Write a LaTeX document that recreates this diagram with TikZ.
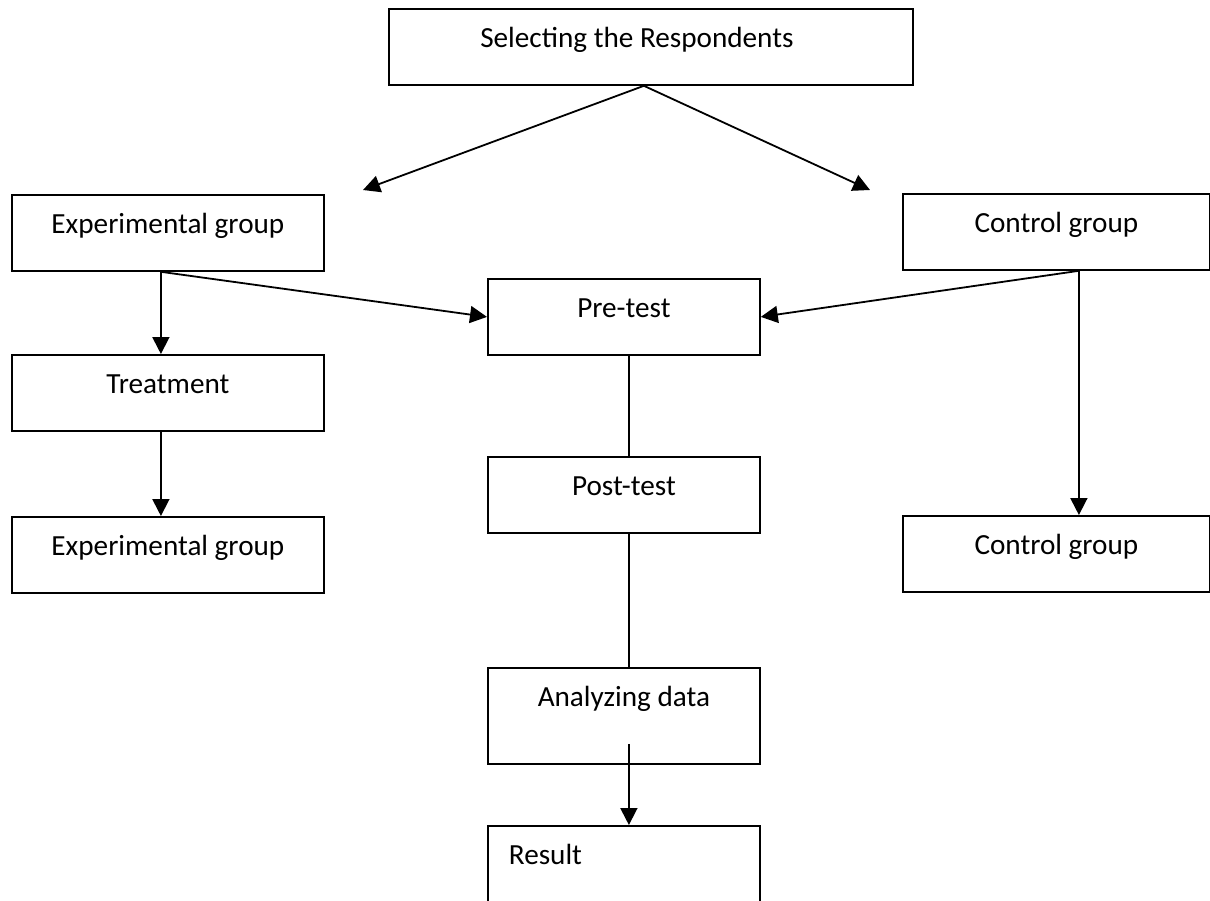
\documentclass[tikz,border=0pt]{standalone}
\usepackage{fontspec}
\setmainfont{Carlito}
\usetikzlibrary{arrows.meta}

\begin{document}
\begin{tikzpicture}[x=0.5pt,y=-0.5pt,
  box/.style={draw=black, line width=0.9pt, inner sep=0pt, anchor=north west,
    font=\fontsize{14.6pt}{17pt}\selectfont,
    text height=19.5pt, text depth=18.5pt},
  wbox/.style={box, minimum width=156pt},
  mbox/.style={box, minimum width=136pt},
  cbox/.style={box, minimum width=153.5pt},
  link/.style={black, line width=0.9pt},
  arr/.style={link, -{Triangle[length=8.5pt,width=8.5pt]}}]
\useasboundingbox (0,0) rectangle (1210,900);
\clip (0,0) rectangle (1210,900);
\node[box, minimum width=262pt] (sel) at (388,8) {Selecting the Respondents\hspace*{14pt}};
\node[wbox] (exp1) at (11,194) {Experimental group};
\node[cbox] (ctl1) at (902,193) {Control group};
\node[mbox] (pre) at (487,278) {Pre-test};
\node[wbox] (treat) at (11,354) {Treatment};
\node[mbox] (post) at (487,456) {Post-test};
\node[wbox] (exp2) at (11,516) {Experimental group};
\node[cbox] (ctl2) at (902,515) {Control group};
\node[mbox, text depth=28.5pt] (ana) at (487,667) {Analyzing data};
\node[mbox, text depth=21pt, text width=115pt, inner xsep=10.5pt, align=left] (res) at (487,825) {Result};
\coordinate (lt) at (363,190);
\coordinate (rt) at (870,190);
\draw[arr] ([xshift=-3.5pt]sel.south) -- (lt);
\draw[arr] ([xshift=-3.5pt]sel.south) -- (rt);
\draw[arr] ([xshift=-3.5pt]exp1.south) -- ([xshift=-3.5pt]treat.north);
\draw[arr] ([xshift=-3.5pt]exp1.south) -- (pre.west);
\draw[arr] ([xshift=-3.5pt]treat.south) -- ([xshift=-3.5pt]exp2.north);
\draw[arr] ([xshift=11.25pt]ctl1.south) -- (pre.east);
\draw[arr] ([xshift=11.25pt]ctl1.south) -- ([xshift=11.25pt]ctl2.north);
\draw[link] ([xshift=2.5pt]pre.south) -- ([xshift=2.5pt]post.north);
\draw[link] ([xshift=2.5pt]post.south) -- ([xshift=2.5pt]ana.north);
\draw[arr] ([xshift=2.5pt,yshift=10.5pt]ana.south) -- ([xshift=2.5pt]res.north);
\end{tikzpicture}
\end{document}
